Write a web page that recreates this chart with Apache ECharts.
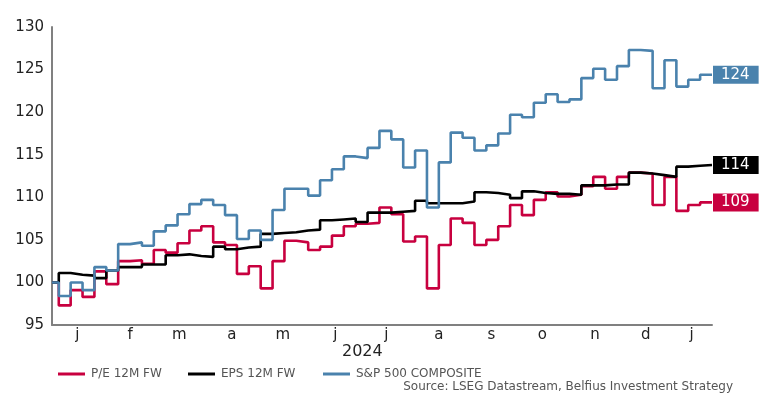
<!DOCTYPE html>
<html>
<head>
<meta charset="utf-8">
<script src="https://cdn.jsdelivr.net/npm/echarts@6/dist/echarts.min.js"></script>
<style>html,body{margin:0;padding:0;background:#fff;}#c{width:767px;height:395px;}</style>
</head>
<body>
<div id="c"></div>
<script>
const dates = ['2024-01-01',
 '2024-01-05','2024-01-12','2024-01-19','2024-01-26',
 '2024-02-02','2024-02-09','2024-02-16','2024-02-23',
 '2024-03-01','2024-03-08','2024-03-15','2024-03-22','2024-03-29',
 '2024-04-05','2024-04-12','2024-04-19','2024-04-26',
 '2024-05-03','2024-05-10','2024-05-17','2024-05-24','2024-05-31',
 '2024-06-07','2024-06-14','2024-06-21','2024-06-28',
 '2024-07-05','2024-07-12','2024-07-19','2024-07-26',
 '2024-08-02','2024-08-09','2024-08-16','2024-08-23','2024-08-30',
 '2024-09-06','2024-09-13','2024-09-20','2024-09-27',
 '2024-10-04','2024-10-11','2024-10-18','2024-10-25',
 '2024-11-01','2024-11-08','2024-11-15','2024-11-22','2024-11-29',
 '2024-12-06','2024-12-13','2024-12-20','2024-12-27',
 '2025-01-03','2025-01-10','2025-01-17','2025-01-24'];

const peValues = [100, 97.3, 99.1, 98.3, 101.3, 99.8, 102.5, 102.6, 102.2, 103.8,
 103.5, 104.6, 106.1, 106.6, 104.7, 104.4, 101.0, 101.9, 99.3, 102.5,
 104.9, 104.7, 103.8, 104.2, 105.5, 106.6, 106.9, 107.0, 108.8, 108.0,
 104.8, 105.4, 99.3, 104.4, 107.5, 107.0, 104.4, 105.0, 106.6, 109.1,
 107.9, 109.7, 110.6, 110.1, 110.3, 111.3, 112.4, 111.0, 112.4, 112.9,
 112.8, 109.1, 112.4, 108.4, 109.1, 109.4, 109.4];

const epsValues = [100, 101.1, 100.9, 100.8, 100.5, 101.4, 101.8, 101.8, 102.1, 102.1,
 103.2, 103.3, 103.1, 103.0, 104.2, 103.9, 104.1, 104.2, 105.7, 105.8,
 105.9, 106.1, 106.2, 107.3, 107.4, 107.5, 107.1, 108.2, 108.2, 108.3,
 108.4, 109.6, 109.3, 109.3, 109.3, 109.5, 110.6, 110.5, 110.3, 109.9,
 110.7, 110.5, 110.4, 110.4, 110.3, 111.4, 111.4, 111.5, 111.5, 112.9,
 112.8, 112.6, 112.4, 113.6, 113.7, 113.8, 113.8];

const spxValues = [100, 98.4, 100, 99.1, 101.8, 101.4, 104.5, 104.7, 104.3, 106.0,
 106.7, 108.0, 109.2, 109.7, 109.1, 107.9, 105.1, 106.1, 105.0, 108.5,
 111.0, 111.0, 110.2, 112.0, 113.3, 114.8, 114.6, 115.8, 117.8, 116.8,
 113.5, 115.5, 108.8, 114.1, 117.6, 117.0, 115.5, 116.1, 117.5, 119.7,
 119.4, 121.1, 122.1, 121.2, 121.5, 124.0, 125.1, 123.8, 125.4, 127.3,
 127.2, 122.8, 126.1, 123.0, 123.8, 124.4, 124.4];

const seriesNames = ['P/E 12M FW', 'EPS 12M FW', 'S&P 500 COMPOSITE'];
const monthLetters = ['j','f','m','a','m','j','j','a','s','o','n','d'];
const monthLabelDates = ['2024-01-16','2024-02-16','2024-03-16','2024-04-16','2024-05-16','2024-06-16',
 '2024-07-16','2024-08-16','2024-09-16','2024-10-16','2024-11-16','2024-12-16','2025-01-12'];
const yearLabel = '2024';
const sourceText = 'Source: LSEG Datastream, Belfius Investment Strategy';

const colors = ['#C8003F', '#000000', '#4A82AD'];
const FONT = 'DejaVu Sans';

function toTs(s){ const p = s.split('-').map(Number); return new Date(p[0], p[1]-1, p[2]).getTime(); }
function pairs(vals){ return dates.map((d,i)=>[toTs(d), vals[i]]); }

const allVals = [peValues, epsValues, spxValues];
const chart = echarts.init(document.getElementById('c'), null, {renderer:'canvas'});

const legendLefts = [58, 188, 323];

chart.setOption({
  animation: false,
  backgroundColor: '#fff',
  grid: {left: 52, right: 55, top: 27, bottom: 70, containLabel: false},
  xAxis: {
    type: 'value',
    min: toTs(dates[0]),
    max: toTs(dates[dates.length-1]),
    axisLine: {show: true, lineStyle: {color: '#808080', width: 2}},
    axisTick: {show: false},
    splitLine: {show: false},
    axisLabel: {
      customValues: monthLabelDates.map(toTs),
      formatter: function(v){ return monthLetters[new Date(v).getMonth()]; },
      fontFamily: FONT, fontSize: 15, color: '#222', margin: 3
    }
  },
  yAxis: {
    type: 'value', min: 95, max: 130, interval: 5,
    axisLine: {show: true, lineStyle: {color: '#808080', width: 2}},
    axisTick: {show: false},
    splitLine: {show: false},
    axisLabel: {fontFamily: FONT, fontSize: 15, color: '#222', margin: 8}
  },
  legend: seriesNames.map((n,i)=>({
    data: [n], left: legendLefts[i], top: 368, padding: 0,
    icon: 'rect', itemWidth: 27, itemHeight: 3, itemGap: 0,
    textStyle: {fontFamily: FONT, fontSize: 12, color: '#555', padding: [0,0,0,1]}
  })),
  graphic: [
    {type: 'text', left: 342, top: 344, style: {text: yearLabel, font: '16px "DejaVu Sans"', fill: '#222'}},
    {type: 'text', right: 34, top: 381, style: {text: sourceText, font: '12px "DejaVu Sans"', fill: '#555'}}
  ],
  series: allVals.map((vals,i)=>({
    name: seriesNames[i],
    type: 'line',
    step: 'end',
    data: pairs(vals),
    showSymbol: false,
    symbol: 'none',
    lineStyle: {color: colors[i], width: 2.6},
    itemStyle: {color: colors[i]},
    endLabel: {
      show: true,
      distance: 1,
      formatter: function(p){ return String(Math.round(p.value[1])); },
      backgroundColor: colors[i],
      color: '#fff',
      fontFamily: FONT,
      fontSize: 15,
      padding: [2, 9, 1, 8]
    }
  }))
});
</script>
</body>
</html>
